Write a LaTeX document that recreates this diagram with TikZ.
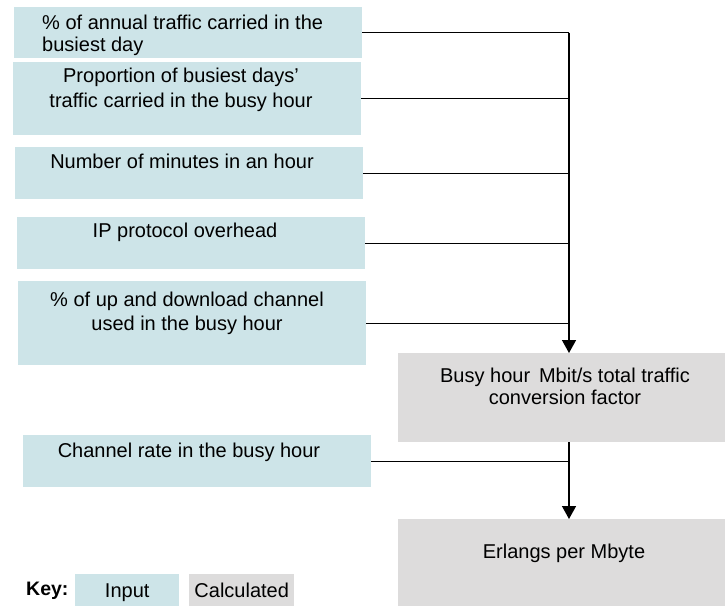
\documentclass[tikz,border=0pt]{standalone}
\usepackage{fontspec}
\setmainfont{Liberation Sans}
\usetikzlibrary{arrows.meta}
\definecolor{inputc}{RGB}{205,228,232}
\definecolor{calcc}{RGB}{221,220,220}
\begin{document}
\begin{tikzpicture}[x=1pt,y=-1pt,
  inbox/.style={draw=none,fill=inputc,inner sep=0pt,anchor=north west,minimum width=348pt},
  calcbox/.style={draw=none,fill=calcc,inner sep=0pt,anchor=north west,minimum width=327pt},
  txt/.style={inner sep=0pt,anchor=north,align=center,font=\fontsize{20}{23}\selectfont},
  keybox/.style={draw=none,inner sep=0pt,anchor=north west,minimum height=32pt,text height=15pt,text depth=1pt,font=\fontsize{20}{23}\selectfont},
  link/.style={draw=black,line width=1pt},
  feed/.style={draw=black,line width=1.4pt,-{Triangle[width=14pt,length=13pt]}}
]
\useasboundingbox (0,0) rectangle (725,606);

% input boxes
\node[inbox,minimum height=51pt] (b1) at (14,7) {};
\node[inbox,minimum height=73pt] (b2) at (13,62) {};
\node[inbox,minimum height=52pt] (b3) at (15,147) {};
\node[inbox,minimum height=52pt] (b4) at (17,217) {};
\node[inbox,minimum height=84pt] (b5) at (18,281) {};
\node[inbox,minimum height=52pt] (ch) at (23,435) {};
% calculated boxes
\node[calcbox,minimum height=89pt] (calc) at (398,353) {};
\node[calcbox,minimum height=87pt] (erl) at (398,519) {};

% texts
\node[txt,anchor=north west,align=left,font=\fontsize{20}{22}\selectfont] (t1) at (42,15) {\% of annual traffic carried in the\\busiest day};
\node[txt,font=\fontsize{20}{25}\selectfont] (t2) at (181,67.5) {Proportion of busiest days’\\traffic carried in the busy hour};
\node[txt] (t3) at (182,153.5) {Number of minutes in an hour};
\node[txt] (t4) at (185,222.5) {IP protocol overhead};
\node[txt,font=\fontsize{20}{24}\selectfont] (t5) at (187,291.5) {\% of up and download channel\\used in the busy hour};
\node[txt,font=\fontsize{20}{22.5}\selectfont] (t6) at (565,367.5) {Busy hour\, Mbit/s total traffic\\conversion factor};
\node[txt] (t7) at (189,442.5) {Channel rate in the busy hour};
\node[txt] (t8) at (564,543.5) {Erlangs per Mbyte};

% key
\node[inner sep=0pt,anchor=base west,font=\fontsize{19.5}{23}\selectfont\bfseries] (key) at (26,595) {Key:};
\node[keybox,fill=inputc,minimum width=104pt] (kin) at (75,574) {Input};
\node[keybox,fill=calcc,minimum width=105pt] (kcalc) at (189,574) {Calculated};

% connectors
\coordinate (bus) at (569,0);
\draw[link] (b2.east) -- (b2.east -| bus);
\draw[link] (b3.east) -- (b3.east -| bus);
\draw[link] (b4.east) -- (b4.east -| bus);
\draw[link] (b5.east) -- (b5.east -| bus);
\draw[link] (b1.east) -- (b1.east -| bus);
\draw[feed] (b1.east -| bus) -- (bus |- calc.north);
\draw[link] (ch.east) -- (ch.east -| bus);
\draw[feed] (bus |- calc.south) -- (bus |- erl.north);
\end{tikzpicture}
\end{document}
